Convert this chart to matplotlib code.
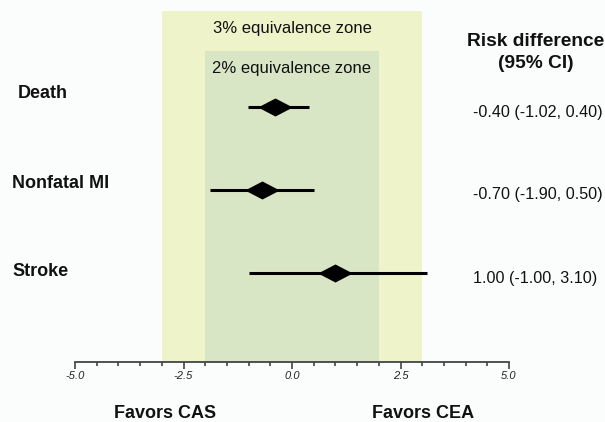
import matplotlib
matplotlib.use("Agg")
import matplotlib.pyplot as plt
import numpy as np
from matplotlib.patches import Rectangle
from matplotlib.path import Path

# data
outcomes = ["Death", "Nonfatal MI", "Stroke"]
risk_diff = [-0.40, -0.70, 1.00]
ci_low = [-1.02, -1.90, -1.00]
ci_high = [0.40, 0.50, 3.10]
zone_limits = [3, 2]
zone_labels = ["3% equivalence zone", "2% equivalence zone"]
tick_labels = ["-5.0", "-2.5", "0.0", "2.5", "5.0"]

# layout (pixel rows, axes in pixel y units)
row_y = [107, 190, 273]
label_dy = [-13, -6, -1]
label_x = [-6.33, -6.45, -6.45]
zone_top = [11, 51]
zone_label_y = [28, 69]
zone_colors = ["#eef3c9", "#d9e6c6"]
axis_y = 362
px_per_unit = 43.4
x_zero = 292

plt.rcParams["font.family"] = ["Liberation Sans", "DejaVu Sans"]

fig = plt.figure(figsize=(6.05, 4.22), dpi=100)
fig.patch.set_facecolor("#fbfcfc")
ax = fig.add_axes([0, 0, 1, 1])
ax.set_facecolor("#fbfcfc")
ax.set_xlim(-x_zero / px_per_unit, (605 - x_zero) / px_per_unit)
ax.set_ylim(422, 0)

# equivalence zones
for lim, top, col, lab, ly in zip(zone_limits, zone_top, zone_colors, zone_labels, zone_label_y):
    ax.add_patch(Rectangle((-lim, top), 2 * lim, axis_y - top, facecolor=col,
                           edgecolor="none", zorder=0))
    ax.text(0, ly, lab, ha="center", va="center", fontsize=12, color="#111111")

# forest lines + diamonds
diamond = Path([(-1, 0), (0, 0.52), (1, 0), (0, -0.52), (-1, 0)],
               [Path.MOVETO, Path.LINETO, Path.LINETO, Path.LINETO, Path.CLOSEPOLY])
for i in range(len(outcomes)):
    ax.plot([ci_low[i], ci_high[i]], [row_y[i], row_y[i]], color="black", lw=2.2,
            solid_capstyle="butt", zorder=3)
    ax.plot(risk_diff[i], row_y[i], marker=diamond, markersize=25, color="black",
            markeredgewidth=0, zorder=4)
    ax.text(label_x[i], row_y[i] + label_dy[i], outcomes[i], ha="left", va="center",
            fontsize=13, fontweight="bold", color="#111111")
    ax.text(4.16, row_y[i] + 5,
            "%.2f (%.2f, %.2f)" % (risk_diff[i], ci_low[i], ci_high[i]),
            ha="left", va="center", fontsize=11.6, color="#111111")

ax.text(5.62, 41, "Risk difference", ha="center", va="center", fontsize=13.8,
        fontweight="bold", color="#111111")
ax.text(5.62, 63, "(95% CI)", ha="center", va="center", fontsize=13.8,
        fontweight="bold", color="#111111")

# bottom axis
for s in ["top", "left", "right"]:
    ax.spines[s].set_visible(False)
ax.spines["bottom"].set_position(("data", axis_y))
ax.spines["bottom"].set_bounds(-5, 5)
ax.spines["bottom"].set_color("#444444")
ax.spines["bottom"].set_linewidth(1.3)
ax.set_xticks(np.arange(-5, 5.01, 2.5))
ax.set_xticks(np.arange(-5, 5.01, 0.5), minor=True)
ax.set_xticklabels(tick_labels, fontstyle="italic")
ax.tick_params(axis="x", which="major", length=5, width=1.2, color="#444444",
               direction="out", pad=1.5, labelsize=8, labelcolor="#222222")
ax.tick_params(axis="x", which="minor", length=3, width=1.2, color="#444444",
               direction="out")
ax.set_yticks([])

ax.text(-2.93, 421.5, "Favors CAS", ha="center", va="bottom", fontsize=13,
        fontweight="bold", color="#111111")
ax.text(3.02, 421.5, "Favors CEA", ha="center", va="bottom", fontsize=13,
        fontweight="bold", color="#111111")

fig.savefig("out.png", dpi=100, facecolor=fig.get_facecolor())
